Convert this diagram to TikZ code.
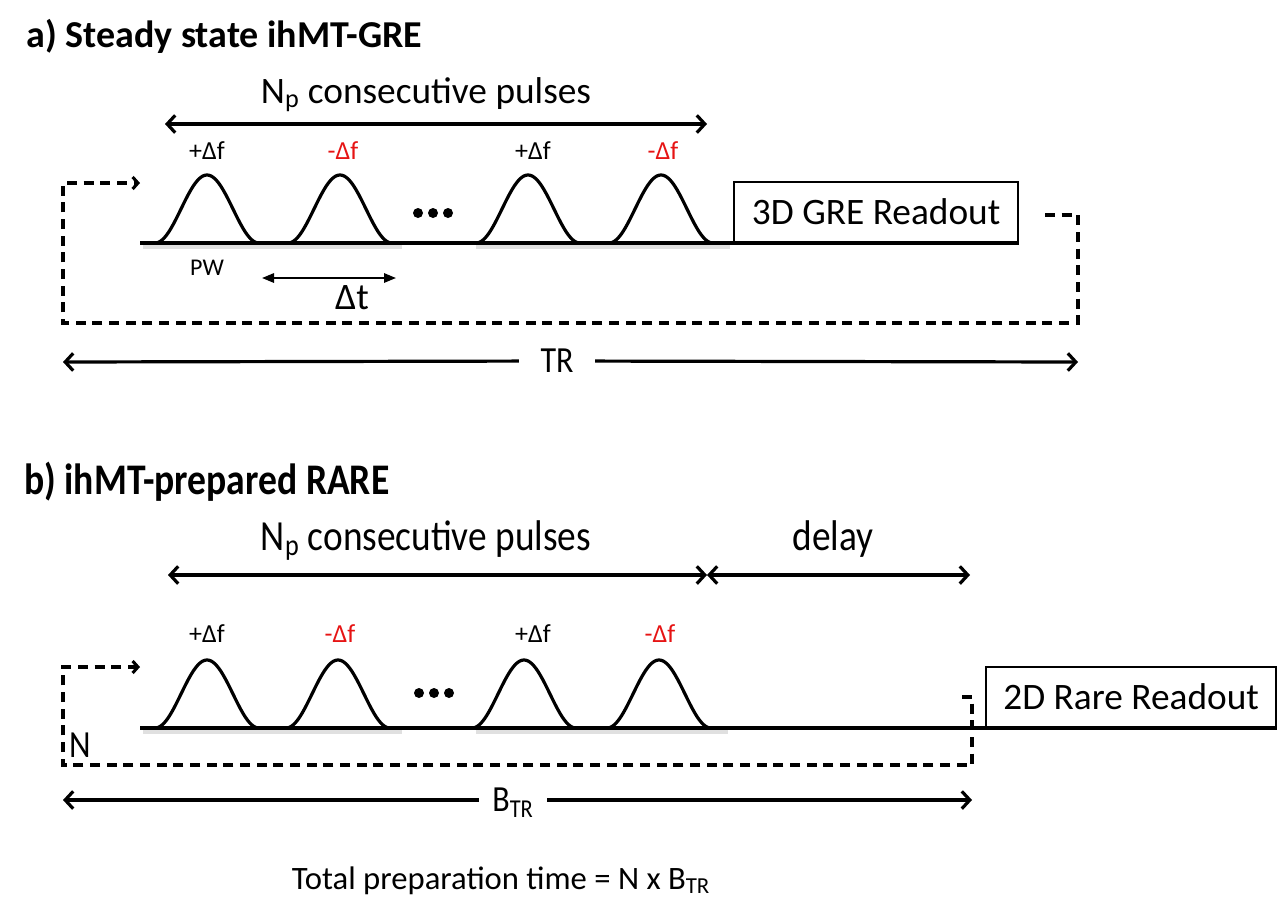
\documentclass[tikz,border=0pt]{standalone}
\usepackage{fontspec}
\setmainfont{Carlito}
\usetikzlibrary{arrows.meta}
\newcommand{\fsz}[1]{\fontsize{#1}{#1}\selectfont}
\newcommand{\tall}[1]{\scalebox{1}[1.15]{#1}}
\newcommand{\rfpulse}[2]{%
  \draw[pulseline] plot[domain=-52:52, samples=80, smooth] ({#1+\x},{#2-34*(1+cos(\x*180/52))});}
\tikzset{
  pulseline/.style={line width=2.4pt, black, line join=round},
  baseline/.style={line width=3pt, black},
  shadowline/.style={line width=3pt, black!12},
  dimarrow/.style={line width=2.4pt, {Straight Barb[length=6pt,width=13pt]}-{Straight Barb[length=6pt,width=13pt]}},
  dimhalf/.style={line width=2.4pt, -{Straight Barb[length=6pt,width=13pt]}},
  smallarrow/.style={line width=1.5pt, {Triangle[length=9pt,width=7pt]}-{Triangle[length=9pt,width=7pt]}},
  loopline/.style={line width=2.3pt, dash pattern=on 7.5pt off 5pt, -{Straight Barb[length=4pt,width=9pt]}},
  readout/.style={draw, line width=1.7pt, minimum width=284*0.75pt, minimum height=60*0.75pt, inner sep=0pt, font=\fsz{28}},
  flabel/.style={font=\fsz{19.5}, anchor=base},
  redlabel/.style={flabel, text={rgb,255:red,230;green,20;blue,20}},
  heading/.style={font=\fsz{28.5}\bfseries, anchor=base west, inner sep=0pt},
  big/.style={font=\fsz{28}, anchor=base, inner sep=0pt},
  dot/.style={circle, fill=black, minimum size=10*0.75pt, inner sep=0pt}
}
\begin{document}
\begin{tikzpicture}[x=0.75pt, y=-0.75pt]
\useasboundingbox (0,0) rectangle (1280,918);

% ---------------- a) ----------------
\node[heading] (ha) at (26,47) {a) Steady state ihMT-GRE};
\node[big] (npa) at (426,103) {N\textsubscript{p} consecutive pulses};
\coordinate (npaL) at (165,124);
\coordinate (npaR) at (707,124);
\draw[dimarrow] (npaL) -- (npaR);

\node[flabel] (fa1) at (207,159) {+Δf};
\node[redlabel] (fa2) at (343,159) {-Δf};
\node[flabel] (fa3) at (533,159) {+Δf};
\node[redlabel] (fa4) at (663,159) {-Δf};

\draw[shadowline] (143,247) -- (402,247);
\draw[shadowline] (476,247) -- (730,247);
\rfpulse{207}{243}
\rfpulse{340}{243}
\rfpulse{528}{243}
\rfpulse{661}{243}
\node[dot] (da1) at (418,213) {};
\node[dot] (da2) at (433,213) {};
\node[dot] (da3) at (448,213) {};

\node[readout, anchor=south west] (ra) at (733,243) {3D GRE Readout};
\coordinate (bla) at (140,243);
\draw[baseline] (bla) -- (ra.south east);

\node[font=\fsz{18}] (pw) at (207,268) {PW};
\coordinate (dtL) at (262,278);
\coordinate (dtR) at (396,278);
\draw[smallarrow] (dtL) -- (dtR);
\node[font=\fsz{28}] (dt) at (352,298) {Δt};

\coordinate (la0) at (1045,215);
\coordinate (la1) at (1078,215);
\coordinate (la2) at (1078,323);
\coordinate (la3) at (63,323);
\coordinate (la4) at (63,183);
\coordinate (la5) at (140,183);
\draw[loopline] (la0) -- (la1) -- (la2) -- (la3) -- (la4) -- (la5);

\node[font=\fsz{24}, inner xsep=16pt] (tr) at (557,361) {\tall{TR}};
\coordinate (trL) at (63,362);
\coordinate (trR) at (1078,362);
\draw[dimhalf] (tr) -- (trL);
\draw[dimhalf] (tr) -- (trR);

% ---------------- b) ----------------
\node[heading] (hb) at (24,494) {\scalebox{0.99}[1.15]{b) ihMT-prepared RARE}};
\node[big] (npb) at (426,550) {\tall{N\textsubscript{p} consecutive pulses}};
\node[big] (delay) at (833,550) {\tall{delay}};
\coordinate (npbL) at (168,575);
\coordinate (npbM) at (707,575);
\coordinate (npbR) at (970,575);
\draw[dimarrow] (npbL) -- (npbM);
\draw[dimarrow] (npbM) -- (npbR);

\node[flabel] (fb1) at (207,642) {+Δf};
\node[redlabel] (fb2) at (340,642) {-Δf};
\node[flabel] (fb3) at (533,642) {+Δf};
\node[redlabel] (fb4) at (660,642) {-Δf};

\draw[shadowline] (143,732) -- (402,732);
\draw[shadowline] (476,732) -- (728,732);
\rfpulse{207}{728}
\rfpulse{338}{728}
\rfpulse{524}{728}
\rfpulse{659}{728}
\node[dot] (db1) at (419,693) {};
\node[dot] (db2) at (434,693) {};
\node[dot] (db3) at (449,693) {};

\node[readout, anchor=south west, minimum width=290*0.75pt] (rb) at (985,728) {2D Rare Readout};
\coordinate (blb) at (140,728);
\draw[baseline] (blb) -- (rb.south east);

\coordinate (lb0) at (962,697);
\coordinate (lb1) at (972,697);
\coordinate (lb2) at (972,765);
\coordinate (lb3) at (63,765);
\coordinate (lb4) at (63,667);
\coordinate (lb5) at (140,667);
\draw[loopline] (lb0) -- (lb1) -- (lb2) -- (lb3) -- (lb4) -- (lb5);
\node[font=\fsz{25}, inner sep=0pt] (nlab) at (80,745) {\tall{N}};

\node[font=\fsz{24}, inner xsep=10pt] (btr) at (513,803) {\tall{B\textsubscript{TR}}};
\coordinate (btL) at (63,800);
\coordinate (btR) at (972,800);
\draw[dimhalf] (btr.west |- btL) -- (btL);
\draw[dimhalf] (btr.east |- btR) -- (btR);

\node[font=\fsz{24.5}, anchor=base] (total) at (501,889) {Total preparation time = N x B\textsubscript{TR}};
\end{tikzpicture}
\end{document}
